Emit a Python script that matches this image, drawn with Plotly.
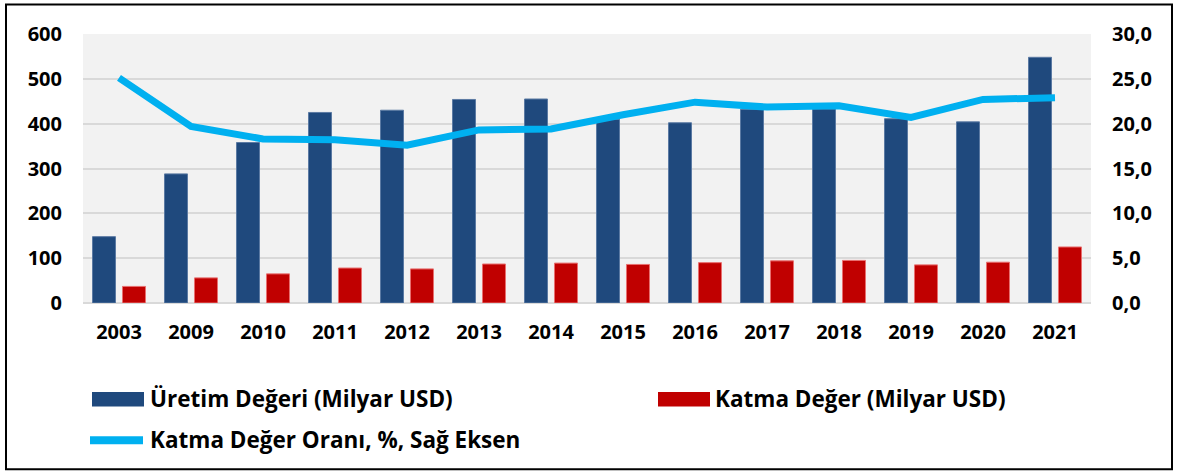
import plotly.graph_objects as go

years = ["2003", "2009", "2010", "2011", "2012", "2013", "2014", "2015", "2016", "2017", "2018", "2019", "2020", "2021"]
uretim = [148, 288, 358, 425, 430, 454, 455, 410, 402, 432, 433, 411, 404, 548]
katma = [37, 56, 65, 78, 76, 87, 89, 86, 90, 94, 95, 85, 91, 125]
oran = [25.1, 19.7, 18.3, 18.2, 17.6, 19.3, 19.4, 21.0, 22.4, 21.85, 22.0, 20.7, 22.7, 22.9]

left_ticks = [0, 100, 200, 300, 400, 500, 600]
right_ticks = [0, 5, 10, 15, 20, 25, 30]

names = ["Üretim Değeri (Milyar USD)", "Katma Değer (Milyar USD)", "Katma Değer Oranı, %, Sağ Eksen"]
BLUE = "#1F497D"
RED = "#C00000"
CYAN = "#00B0F0"

W, H = 1177, 472
L, R, T, B = 83, 1091, 33.5, 303.3
FONT = "Open Sans"
tickfont = dict(family=FONT, size=20, color="black", weight="bold")

fig = go.Figure()
fig.add_trace(go.Bar(x=years, y=uretim, name=names[0], marker=dict(color=BLUE, line=dict(color="#5B7AA3", width=1)), yaxis="y"))
fig.add_trace(go.Bar(x=years, y=katma, name=names[1], marker=dict(color=RED, line=dict(color="#E87070", width=1)), yaxis="y"))
fig.add_trace(go.Scatter(x=years, y=oran, name=names[2], mode="lines", line=dict(color=CYAN, width=7), yaxis="y2"))


def px_x(p):
    return (p - L) / (R - L)


def px_y(p):
    return (B - p) / (B - T)


shapes = [
    dict(type="rect", xref="paper", yref="paper", x0=px_x(6), x1=px_x(1172), y0=px_y(470), y1=px_y(4),
         line=dict(color="black", width=2), fillcolor="rgba(0,0,0,0)", layer="below"),
    dict(type="rect", xref="paper", yref="paper", x0=px_x(92), x1=px_x(144), y0=px_y(407), y1=px_y(392.5),
         line=dict(width=0), fillcolor=BLUE),
    dict(type="rect", xref="paper", yref="paper", x0=px_x(658), x1=px_x(710), y0=px_y(407), y1=px_y(392.5),
         line=dict(width=0), fillcolor=RED),
    dict(type="line", xref="paper", yref="paper", x0=px_x(90), x1=px_x(143), y0=px_y(441), y1=px_y(441),
         line=dict(color=CYAN, width=8)),
]

ann = []
for txt, xx, yy in [(names[0], 148, 399), (names[1], 713, 399), (names[2], 148, 440)]:
    ann.append(dict(text="<b>" + txt + "</b>", xref="paper", yref="paper", x=px_x(xx), y=px_y(yy),
                    xanchor="left", yanchor="middle", showarrow=False,
                    font=dict(family=FONT, size=22.5, color="black")))

fig.update_layout(
    width=W, height=H,
    margin=dict(l=L, r=W - R, t=T, b=H - B, autoexpand=False),
    paper_bgcolor="white",
    plot_bgcolor="#F2F2F2",
    barmode="group",
    bargap=0.167,
    bargroupgap=0.233,
    showlegend=False,
    separators=",.",
    font=dict(family=FONT, size=18, color="black"),
    xaxis=dict(type="category", showgrid=False, zeroline=False, showline=False, automargin=False,
               tickfont=tickfont, ticklabelstandoff=15, ticks=""),
    yaxis=dict(range=[0, 600], tickvals=left_ticks, showgrid=True, gridcolor="#D9D9D9", gridwidth=2,
               zeroline=True, zerolinecolor="#D9D9D9", zerolinewidth=2, showline=False, automargin=False,
               tickfont=tickfont, ticklabelstandoff=20),
    yaxis2=dict(range=[0, 30], tickvals=right_ticks, tickformat=".1f", overlaying="y", side="right",
                showgrid=False, zeroline=False, showline=False, automargin=False,
                tickfont=tickfont, ticklabelstandoff=20),
    shapes=shapes,
    annotations=ann,
)

fig.write_html("out.html", config={"displayModeBar": False},
               post_script="document.body.style.margin='0';document.body.style.overflow='hidden';")
